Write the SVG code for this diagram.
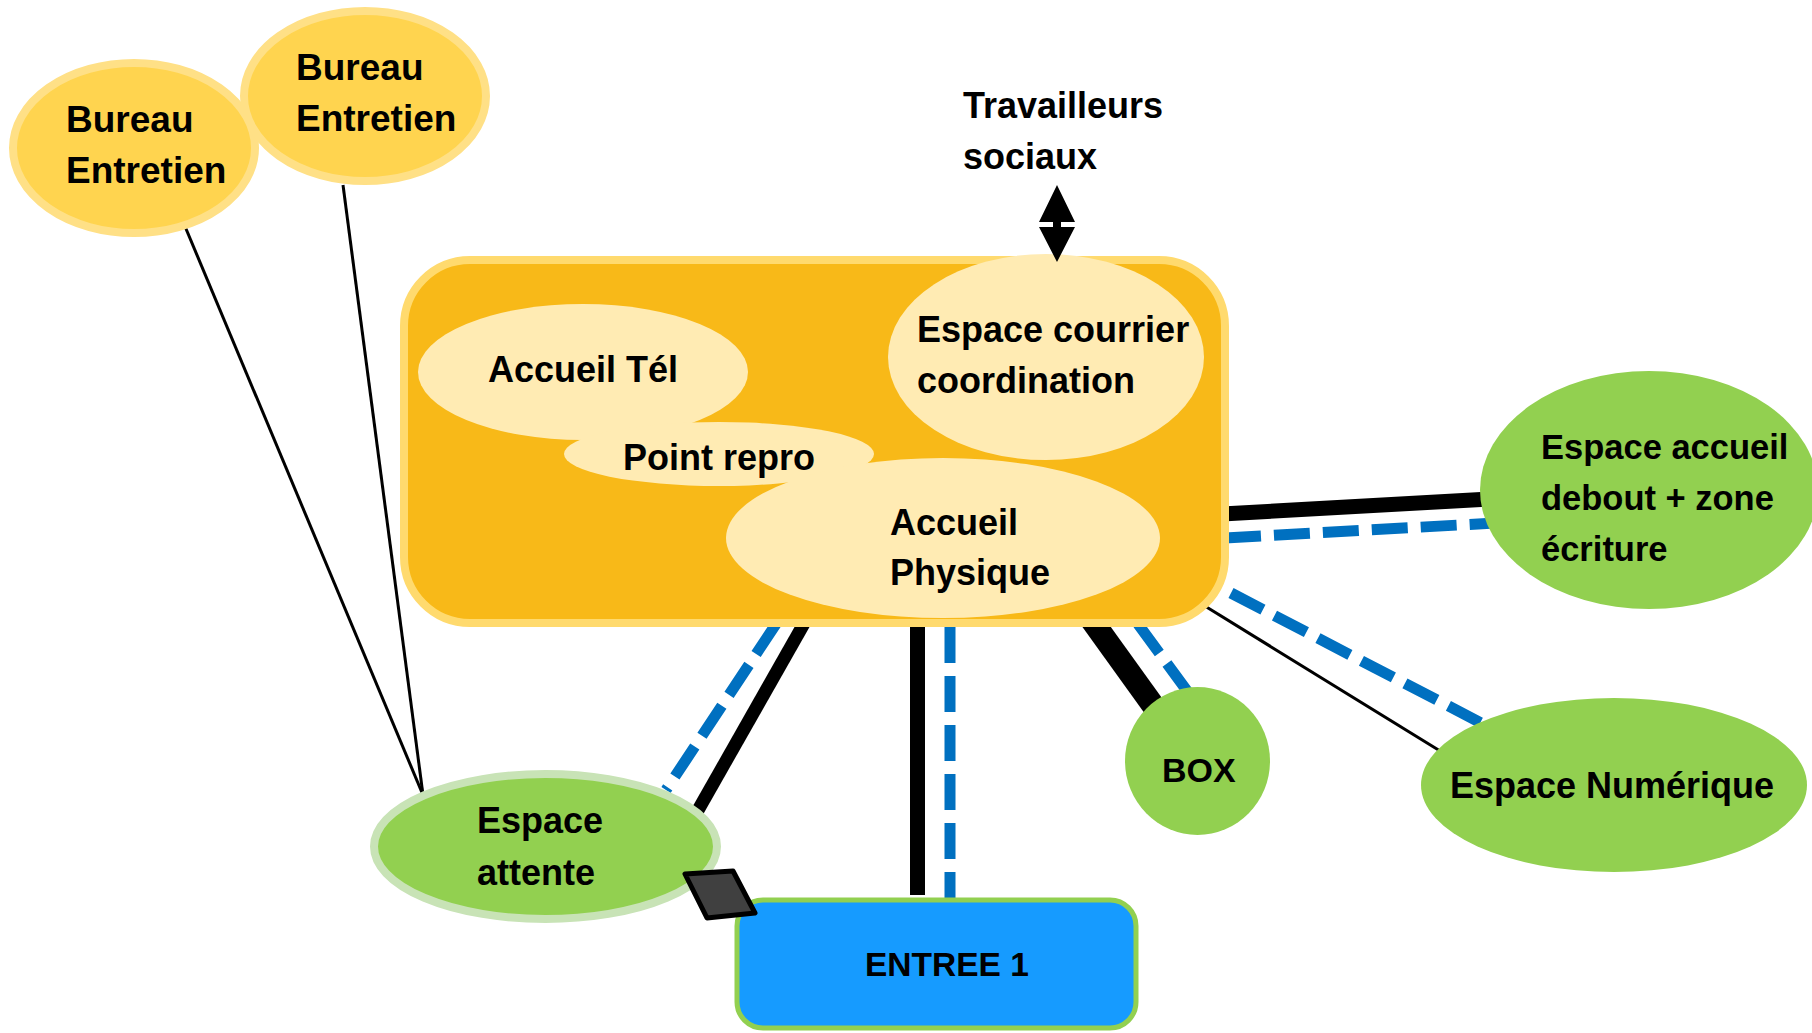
<svg xmlns="http://www.w3.org/2000/svg" width="1812" height="1033" viewBox="0 0 1812 1033">
<style>
text{font-family:"Liberation Sans",Arial,sans-serif;font-weight:bold;fill:#000}
.yel{fill:#FFD44F;stroke:#FFE086;stroke-width:8}
.grn{fill:#92D050}
.cream{fill:#FFEBB3}
.blk{stroke:#000;fill:none}
.blu{stroke:#0070C0;fill:none;stroke-width:11;stroke-dasharray:36 13}
</style>
<rect width="1812" height="1033" fill="#fff"/>
<g id="connectors">
  <line class="blk" x1="184" y1="224" x2="423" y2="795" stroke-width="3"/>
  <line class="blk" x1="343" y1="185" x2="423" y2="795" stroke-width="3"/>
  <line class="blu" x1="776" y1="624" x2="666" y2="790"/>
  <line class="blk" x1="806" y1="620" x2="697" y2="812" stroke-width="13"/>
  <line class="blk" x1="917.5" y1="620" x2="917.5" y2="895" stroke-width="15"/>
  <line class="blu" x1="950" y1="627" x2="950" y2="900"/>
  <line class="blk" x1="1088" y1="615" x2="1165" y2="722" stroke-width="23"/>
  <line class="blu" x1="1138" y1="624" x2="1190" y2="695"/>
  <line class="blk" x1="1200" y1="603" x2="1445" y2="754" stroke-width="3"/>
  <line class="blu" x1="1231" y1="593" x2="1485" y2="725"/>
  <line class="blk" x1="1222" y1="514" x2="1490" y2="499" stroke-width="15"/>
  <line class="blu" x1="1225" y1="538" x2="1495" y2="523"/>
</g>
<g id="bureau1">
  <ellipse class="yel" cx="134" cy="148" rx="121" ry="85"/>
  <text x="66" y="132" font-size="37">Bureau</text>
  <text x="66" y="183" font-size="37">Entretien</text>
</g>
<g id="bureau2">
  <ellipse class="yel" cx="365" cy="96" rx="121" ry="85"/>
  <text x="296" y="80" font-size="37">Bureau</text>
  <text x="296" y="131" font-size="37">Entretien</text>
</g>
<g id="travailleurs">
  <text x="963" y="118" font-size="36">Travailleurs</text>
  <text x="963" y="169" font-size="36">sociaux</text>
</g>
<g id="bureau-principal">
  <rect x="404" y="260" width="821" height="363" rx="66" ry="66" fill="#F8B918" stroke="#FFDA6E" stroke-width="8"/>
</g>
<g id="accueil-tel">
  <ellipse class="cream" cx="583" cy="372" rx="165" ry="68"/>
  <text x="488" y="382" font-size="36">Accueil Tél</text>
</g>
<g id="point-repro">
  <ellipse class="cream" cx="719" cy="454" rx="155" ry="32"/>
  <text x="623" y="470" font-size="36">Point repro</text>
</g>
<g id="accueil-physique">
  <ellipse class="cream" cx="943" cy="538" rx="217" ry="80"/>
  <text x="890" y="535" font-size="36">Accueil</text>
  <text x="890" y="585" font-size="36">Physique</text>
</g>
<g id="espace-courrier">
  <ellipse class="cream" cx="1046" cy="357" rx="158" ry="103"/>
  <text x="917" y="342" font-size="36">Espace courrier</text>
  <text x="917" y="393" font-size="36">coordination</text>
</g>
<g id="arrow-travailleurs">
  <path d="M1057 185 L1075 222 L1061 222 L1061 227 L1075 227 L1057 262 L1039 227 L1053 227 L1053 222 L1039 222 Z" fill="#000"/>
</g>
<g id="espace-accueil-debout">
  <ellipse class="grn" cx="1649" cy="490" rx="169" ry="119"/>
  <text x="1541" y="459" font-size="34.5">Espace accueil</text>
  <text x="1541" y="510" font-size="34.5">debout + zone</text>
  <text x="1541" y="561" font-size="34.5">écriture</text>
</g>
<g id="espace-numerique">
  <ellipse class="grn" cx="1614" cy="785" rx="193" ry="87"/>
  <text x="1450" y="798" font-size="36">Espace Numérique</text>
</g>
<g id="box">
  <ellipse class="grn" cx="1197.5" cy="761" rx="72.5" ry="74"/>
  <text x="1162" y="782" font-size="34">BOX</text>
</g>
<g id="espace-attente">
  <ellipse class="grn" cx="545.5" cy="846.5" rx="171.5" ry="72.5" stroke="#C8E3B6" stroke-width="8"/>
  <text x="477" y="833" font-size="36">Espace</text>
  <text x="477" y="885" font-size="36">attente</text>
</g>
<g id="entree1">
  <rect x="737" y="900" width="399" height="128" rx="26" ry="26" fill="#169BFF" stroke="#92D050" stroke-width="5"/>
  <text x="865" y="976" font-size="33.5">ENTREE 1</text>
</g>
<g id="tablette">
  <polygon points="685,874 733,871 755,913 707,918" fill="#404040" stroke="#000" stroke-width="5" stroke-linejoin="round"/>
</g>
</svg>
